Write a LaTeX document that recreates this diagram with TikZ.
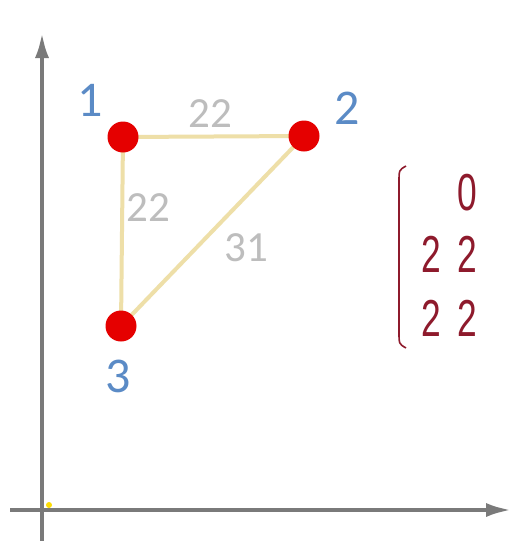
\documentclass[tikz,border=0pt]{standalone}
\usepackage{fontspec}
\setmainfont{Carlito}
\newfontfamily\matfont[FakeStretch=0.68,LetterSpace=31]{Liberation Sans}
\usetikzlibrary{arrows.meta}
\definecolor{edgecol}{HTML}{EEDFA8}
\definecolor{vblue}{HTML}{5B8BC6}
\definecolor{lgrey}{HTML}{BDBDBD}
\definecolor{matred}{HTML}{8E1A2C}
\definecolor{axgrey}{HTML}{7A7A7A}
\tikzset{
  vertex/.style={circle,fill=red!90!black,draw=none,minimum size=31pt,inner sep=0pt},
  vlabel/.style={text=vblue,font=\fontsize{50}{50}\selectfont,inner sep=0pt},
  elabel/.style={text=lgrey,font=\fontsize{43}{43}\selectfont,inner sep=0pt},
  edge/.style={draw=edgecol,line width=4pt},
  axis/.style={draw=axgrey,line width=4.5pt,-{Latex[length=26pt,width=14pt]}},
  mat/.style={text=matred,font=\matfont\fontsize{52}{52}\selectfont,inner sep=0pt,anchor=east}
}
\begin{document}
\begin{tikzpicture}[x=1pt,y=-1pt]
\useasboundingbox[fill=white] (0,0) rectangle (518,541);
% axes
\coordinate (ybot) at (42,541);
\coordinate (ytop) at (42,32);
\coordinate (xleft) at (10,510);
\coordinate (xright) at (512,510);
\draw[axis] (ybot) -- (ytop);
\draw[axis] (xleft) -- (xright);
\fill[yellow!80!orange] (49,505) circle (3);
% vertices
\coordinate (c1) at (123,137);
\coordinate (c2) at (304,136);
\coordinate (c3) at (121,326);
\draw[edge] (c1) -- (c2);
\draw[edge] (c1) -- (c3);
\draw[edge] (c2) -- (c3);
\node[vertex] (n1) at (c1) {};
\node[vertex] (n2) at (c2) {};
\node[vertex] (n3) at (c3) {};
% vertex labels
\node[vlabel] (l1) at (90,100) {1};
\node[vlabel] (l2) at (347,108) {2};
\node[vlabel] (l3) at (118,376) {3};
% edge labels
\node[elabel] (e12) at (210,114) {22};
\node[elabel] (e13) at (148,208) {22};
\node[elabel] (e23) at (246,248) {31};
% matrix
\draw[matred,line width=1.6pt] (406,166) .. controls (399,170) .. (399,182) -- (399,332) .. controls (399,344) .. (406,348);
\node[mat] (m1) at (477,193) {0};
\node[mat] (m2) at (477,254) {22};
\node[mat] (m3) at (477,318) {22};
\end{tikzpicture}
\end{document}
